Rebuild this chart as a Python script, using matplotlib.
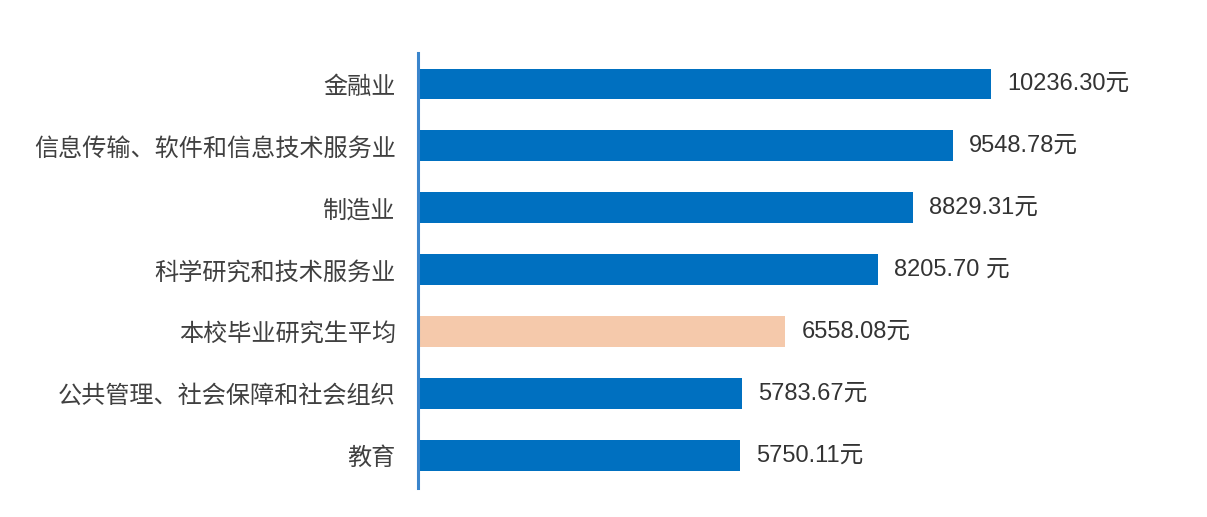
import matplotlib
matplotlib.use('Agg')
import matplotlib.pyplot as plt

# data, top to bottom as in the chart
categories = ['金融业', '信息传输、软件和信息技术服务业', '制造业', '科学研究和技术服务业',
              '本校毕业研究生平均', '公共管理、社会保障和社会组织', '教育']
values = [10236.30, 9548.78, 8829.31, 8205.70, 6558.08, 5783.67, 5750.11]
value_labels = ['10236.30元', '9548.78元', '8829.31元', '8205.70 元',
                '6558.08元', '5783.67元', '5750.11元']
highlight = '本校毕业研究生平均'

blue = '#0070C0'
peach = '#F5C9AB'

fig = plt.figure(figsize=(12.07, 5.17), dpi=100)
ax = fig.add_axes([0.3463, 0.056, 0.557, 0.8414])

n = len(categories)
ypos = [n - 1 - i for i in range(n)]
colors = [peach if c == highlight else blue for c in categories]
ax.barh(ypos, values, height=0.5, color=colors, zorder=2)

# value labels to the right of each bar
for y, v, lab in zip(ypos, values, value_labels):
    ax.annotate(lab, (v, y), xytext=(16, 0), textcoords='offset pixels',
                va='center', ha='left', fontsize=17, color='#333333',
                family=['Liberation Sans', 'Noto Sans CJK SC'])

ax.set_xlim(0, 12000)
ax.set_ylim(-0.53, n - 0.5)
ax.set_yticks(ypos)
ax.set_yticklabels(categories, family=['Noto Sans CJK SC'], fontsize=17.4, color='#404040')
ax.tick_params(axis='y', length=0, pad=16)
ax.set_xticks([])
for s in ['top', 'right', 'bottom']:
    ax.spines[s].set_visible(False)
ax.spines['left'].set_color('#3A85CC')
ax.spines['left'].set_linewidth(2.2)

fig.savefig('out.png', dpi=100, facecolor='white')
